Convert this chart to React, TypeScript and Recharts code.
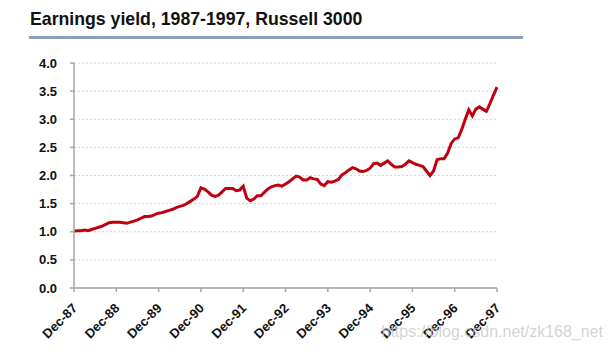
import { LineChart, Line, XAxis, YAxis, CartesianGrid } from 'recharts'

// monthly earnings yield (%), Dec-87 .. Dec-97
const yieldValues = [
  1.01, 1.02, 1.02, 1.03, 1.02, 1.04, 1.06, 1.08, 1.10, 1.13, 1.16, 1.17,
  1.17, 1.17, 1.16, 1.15, 1.17, 1.19, 1.21, 1.24, 1.27, 1.27, 1.28, 1.31,
  1.33, 1.34, 1.36, 1.38, 1.40, 1.43, 1.45, 1.47, 1.50, 1.54, 1.58, 1.63,
  1.78, 1.76, 1.71, 1.65, 1.63, 1.65, 1.71, 1.77, 1.77, 1.77, 1.73, 1.74,
  1.81, 1.60, 1.55, 1.58, 1.64, 1.64, 1.70, 1.76, 1.80, 1.82, 1.83, 1.81,
  1.85, 1.89, 1.94, 1.99, 1.97, 1.92, 1.92, 1.96, 1.94, 1.93, 1.85, 1.82,
  1.89, 1.88, 1.90, 1.93, 2.01, 2.05, 2.10, 2.14, 2.12, 2.08, 2.07, 2.09,
  2.13, 2.21, 2.22, 2.18, 2.22, 2.26, 2.20, 2.15, 2.15, 2.16, 2.20, 2.26,
  2.23, 2.20, 2.18, 2.16, 2.08, 2.00, 2.08, 2.28, 2.30, 2.30, 2.40, 2.57,
  2.65, 2.67, 2.82, 3.00, 3.17, 3.06, 3.18, 3.22, 3.18, 3.14, 3.28, 3.43,
  3.57,
]

const xTickLabels = [
  'Dec-87', 'Dec-88', 'Dec-89', 'Dec-90', 'Dec-91', 'Dec-92',
  'Dec-93', 'Dec-94', 'Dec-95', 'Dec-96', 'Dec-97',
]
const xTickMonths = [0, 12, 24, 36, 48, 60, 72, 84, 96, 108, 120]
const yTicks = [0, 0.5, 1, 1.5, 2, 2.5, 3, 3.5, 4]

const data = yieldValues.map((v, i) => ({ month: i, value: v }))

const FONT = '"Liberation Sans", Arial, sans-serif'

function RotatedTick(props: any) {
  const { x, y, payload } = props
  const idx = xTickMonths.indexOf(payload.value)
  return (
    <g transform={`translate(${x + 4},${y + 17})`}>
      <text
        x={0}
        y={0}
        textAnchor="end"
        transform="rotate(-45)"
        fill="#111"
        fontSize={13}
        fontWeight="bold"
        fontFamily={FONT}
      >
        {idx >= 0 ? xTickLabels[idx] : ''}
      </text>
    </g>
  )
}

export default function App() {
  return (
    <div
      style={{
        position: 'absolute',
        left: 0,
        top: 0,
        width: 613,
        height: 352,
        background: '#fff',
        fontFamily: FONT,
      }}
    >
      <div
        style={{
          position: 'absolute',
          left: 30,
          top: 9,
          fontSize: 17.7,
          lineHeight: '20px',
          fontWeight: 'bold',
          color: '#111',
          whiteSpace: 'nowrap',
        }}
      >
        Earnings yield, 1987-1997, Russell 3000
      </div>
      <div
        style={{
          position: 'absolute',
          left: 29,
          top: 36,
          width: 494,
          height: 2.5,
          background: '#8fa0b5',
        }}
      />
      <LineChart
        width={613}
        height={352}
        data={data}
        margin={{ top: 63, right: 116, bottom: 14, left: 30 }}
      >
        <CartesianGrid vertical={false} stroke="#d4d4d4" strokeDasharray="2 2" />
        <XAxis
          dataKey="month"
          type="number"
          domain={[0, 120]}
          ticks={xTickMonths}
          interval={0}
          height={50}
          tickSize={4}
          tickMargin={0}
          stroke="#a6a6a6"
          strokeWidth={1.5}
          tick={<RotatedTick />}
        />
        <YAxis
          domain={[0, 4]}
          ticks={yTicks}
          width={44}
          tickSize={4}
          tickMargin={13}
          stroke="#a6a6a6"
          strokeWidth={1.5}
          tickFormatter={(v: number) => v.toFixed(1)}
          tick={{ fill: '#111', fontSize: 13, fontWeight: 'bold', fontFamily: FONT }}
        />
        <Line
          type="linear"
          dataKey="value"
          stroke="#c00010"
          strokeWidth={3}
          dot={false}
          isAnimationActive={false}
        />
      </LineChart>
      <div
        style={{
          position: 'absolute',
          right: 10,
          top: 323,
          fontSize: 16,
          lineHeight: '18px',
          color: 'rgba(200,200,200,0.8)',
          whiteSpace: 'nowrap',
          pointerEvents: 'none',
        }}
      >
        https://blog.csdn.net/zk168_net
      </div>
    </div>
  )
}
